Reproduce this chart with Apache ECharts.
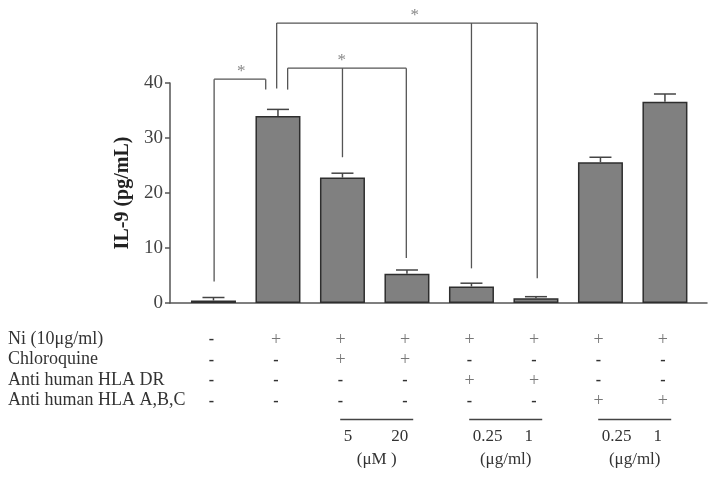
<!DOCTYPE html>
<html>
<head>
<meta charset="utf-8">
<script src="https://cdn.jsdelivr.net/npm/echarts@6/dist/echarts.min.js"></script>
<style>
  html, body { margin: 0; padding: 0; background: #fff; }
  #chart { width: 714px; height: 479px; }
</style>
</head>
<body>
<div id="chart"></div>
<script>
// Data
const groups = [1, 2, 3, 4, 5, 6, 7, 8];
const il9 = [0.45, 34.0, 22.8, 5.3, 3.0, 0.85, 25.6, 36.6];
const il9Err = [0.55, 1.2, 0.8, 0.7, 0.6, 0.3, 0.9, 1.4];

const rowLabels = ['Ni (10μg/ml)', 'Chloroquine', 'Anti human HLA DR', 'Anti human HLA A,B,C'];
const niRow = ['-', '+', '+', '+', '+', '+', '+', '+'];
const cqRow = ['-', '-', '+', '+', '-', '-', '-', '-'];
const drRow = ['-', '-', '-', '-', '+', '+', '-', '-'];
const abcRow = ['-', '-', '-', '-', '-', '-', '+', '+'];
const tableRows = [niRow, cqRow, drRow, abcRow];

// dose groups: [first bar, second bar]
const doseGroups = [[3, 4], [5, 6], [7, 8]];
const doseLow = ['5', '0.25', '0.25'];
const doseHigh = ['20', '1', '1'];
const doseUnits = ['(μM )', '(μg/ml)', '(μg/ml)'];

// significance brackets: legs [x, foot value], top value, star x
const bracketLegs = [
    [[1.01, 3.9], [1.81, 38.8]],
    [[2.15, 38.8], [3.0, 26.5], [3.99, 8.2]],
    [[1.98, 39.0], [5.0, 6.3], [6.02, 4.5]]
];
const bracketTops = [40.7, 42.7, 50.9];
const starX = [1.43, 2.99, 4.12];

const serif = '"Liberation Serif", "DejaVu Serif", serif';
const lineColor = '#555';
const rowY = [340, 360.5, 381, 401.5];

const chart = echarts.init(document.getElementById('chart'));
chart.setOption({
    animation: false,
    grid: { left: 170, right: 7, top: 83, bottom: 176 },
    xAxis: {
        type: 'value',
        min: 0.326,
        max: 8.652,
        axisLine: { show: true, onZero: false, lineStyle: { color: lineColor, width: 1.5 } },
        axisTick: { show: false },
        axisLabel: { show: false },
        splitLine: { show: false }
    },
    yAxis: {
        type: 'value',
        min: 0,
        max: 40,
        interval: 10,
        name: 'IL-9 (pg/mL)',
        nameLocation: 'middle',
        nameRotate: 90,
        nameGap: 33,
        nameTextStyle: { fontFamily: serif, fontWeight: 'bold', fontSize: 20, color: '#222' },
        axisLine: { show: true, lineStyle: { color: lineColor, width: 1.5 } },
        axisTick: { show: true, length: 5, lineStyle: { color: lineColor, width: 1.5 } },
        axisLabel: { fontFamily: serif, fontSize: 19, color: '#444', margin: 7 },
        splitLine: { show: false }
    },
    series: [
        {
            type: 'bar',
            barWidth: 45,
            data: groups.map((g, i) => [g, il9[i]]),
            itemStyle: { color: '#808080', borderColor: '#2e2e2e', borderWidth: 1.5 }
        },
        {
            // error bars
            type: 'custom',
            data: groups.map((g, i) => [g, il9[i], il9[i] + il9Err[i]]),
            renderItem: function (params, api) {
                const base = api.coord([api.value(0), api.value(1)]);
                const top = api.coord([api.value(0), api.value(2)]);
                const style = { stroke: '#444', lineWidth: 1.5 };
                return {
                    type: 'group',
                    children: [
                        { type: 'line', shape: { x1: base[0], y1: base[1], x2: top[0], y2: top[1] }, style: style },
                        { type: 'line', shape: { x1: top[0] - 11, y1: top[1], x2: top[0] + 11, y2: top[1] }, style: style }
                    ]
                };
            },
            z: 3
        },
        {
            // significance brackets
            type: 'custom',
            clip: false,
            data: bracketTops.map((t, i) => [i]),
            renderItem: function (params, api) {
                const i = params.dataIndex;
                const legs = bracketLegs[i];
                const topY = api.coord([0, bracketTops[i]])[1];
                const style = { stroke: lineColor, lineWidth: 1.3 };
                const x0 = api.coord([legs[0][0], 0])[0];
                const x1 = api.coord([legs[legs.length - 1][0], 0])[0];
                const children = [
                    { type: 'line', shape: { x1: x0, y1: topY, x2: x1, y2: topY }, style: style }
                ];
                legs.forEach(function (leg) {
                    const p = api.coord(leg);
                    children.push({ type: 'line', shape: { x1: p[0], y1: topY, x2: p[0], y2: p[1] }, style: style });
                });
                const sx = api.coord([starX[i], 0])[0];
                children.push({
                    type: 'text',
                    x: sx, y: topY - 8,
                    style: { text: '*', fontFamily: serif, fontSize: 17, fill: '#888', align: 'center', verticalAlign: 'middle' }
                });
                return { type: 'group', children: children };
            }
        },
        {
            // treatment table under the axis
            type: 'custom',
            clip: false,
            data: groups.map(g => [g]),
            renderItem: function (params, api) {
                const i = params.dataIndex;
                const x = api.coord([api.value(0), 0])[0] - 2;
                const children = tableRows.map(function (row, r) {
                    const plus = row[i] === '+';
                    return {
                        type: 'text',
                        x: x, y: rowY[r],
                        style: {
                            text: row[i],
                            fontFamily: serif,
                            fontSize: plus ? 18 : 16,
                            fontWeight: plus ? 'normal' : 'bold',
                            fill: plus ? '#777' : '#333',
                            align: 'center',
                            verticalAlign: 'middle'
                        }
                    };
                });
                return { type: 'group', children: children };
            }
        },
        {
            // dose groups
            type: 'custom',
            clip: false,
            data: doseGroups.map(d => [(d[0] + d[1]) / 2]),
            renderItem: function (params, api) {
                const i = params.dataIndex;
                const cx = api.coord([api.value(0), 0])[0] + 2;
                const txt = { fontFamily: serif, fontSize: 17, fill: '#333', verticalAlign: 'middle' };
                return {
                    type: 'group',
                    children: [
                        { type: 'line', shape: { x1: cx - 36.5, y1: 419.5, x2: cx + 36.5, y2: 419.5 }, style: { stroke: '#444', lineWidth: 1.5 } },
                        { type: 'text', x: cx - 33, y: 437, style: Object.assign({ text: doseLow[i], align: 'left' }, txt) },
                        { type: 'text', x: cx + 23, y: 437, style: Object.assign({ text: doseHigh[i], align: 'center' }, txt) },
                        { type: 'text', x: cx, y: 460, style: Object.assign({ text: doseUnits[i], align: 'center' }, txt) }
                    ]
                };
            }
        }
    ],
    graphic: rowLabels.map(function (label, r) {
        return {
            type: 'text',
            left: 8,
            top: rowY[r] - 10,
            style: { text: label, fontFamily: serif, fontSize: 18, fill: '#333' }
        };
    })
});

window.addEventListener('resize', function () {
    chart.resize();
});
</script>
</body>
</html>
